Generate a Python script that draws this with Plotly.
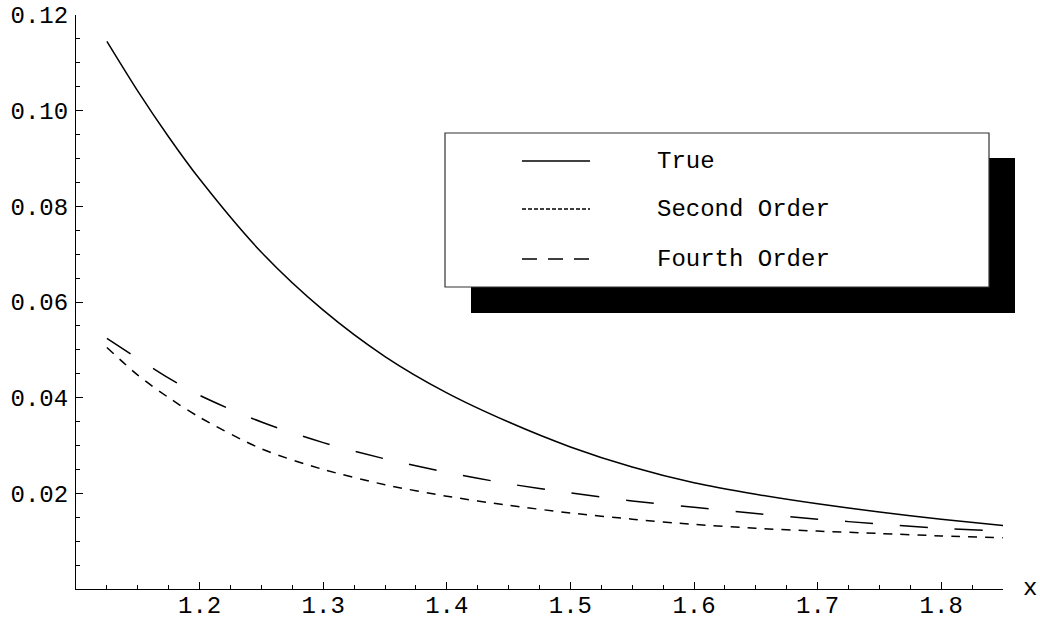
import plotly.graph_objects as go

# ---- data ----
x_vals = [1.125, 1.15, 1.175, 1.2, 1.25, 1.3, 1.35, 1.4, 1.45, 1.5,
          1.55, 1.6, 1.65, 1.7, 1.75, 1.8, 1.85]
true_vals = [0.1145, 0.1041, 0.0945, 0.0857, 0.0704, 0.0583, 0.0486, 0.0410,
             0.0349, 0.0297, 0.0255, 0.0222, 0.0198, 0.0178, 0.0161, 0.0146, 0.0133]
second_vals = [0.0505, 0.0447, 0.0400, 0.0359, 0.0293, 0.0250, 0.0218, 0.0194,
               0.0175, 0.0159, 0.0146, 0.0135, 0.0127, 0.0121, 0.0116, 0.0111, 0.0107]
fourth_vals = [0.0524, 0.0482, 0.0441, 0.0405, 0.0349, 0.0306, 0.0272, 0.0244,
               0.0220, 0.0201, 0.0184, 0.0171, 0.0158, 0.0146, 0.0136, 0.0127, 0.0121]
series_names = ["True", "Second Order", "Fourth Order"]
x_ticks = [1.2, 1.3, 1.4, 1.5, 1.6, 1.7, 1.8]
x_ticklabels = ["1.2", "1.3", "1.4", "1.5", "1.6", "1.7", "1.8"]
y_ticks = [0.02, 0.04, 0.06, 0.08, 0.10, 0.12]
y_ticklabels = ["0.02", "0.04", "0.06", "0.08", "0.10", "0.12"]

FONT = "Courier New, Liberation Mono, monospace"
W, H = 1040, 619
ML, MR, MT, MB = 76, 37, 15, 30
PW, PH = W - ML - MR, H - MT - MB


def px(xp):
    return (xp - ML) / PW


def py(yp):
    return (H - MB - yp) / PH


fig = go.Figure()
styles = [("solid", series_names[0], true_vals),
          ("9px,8px", series_names[1], second_vals),
          ("28px,27px", series_names[2], fourth_vals)]
for dash, name, vals in styles:
    fig.add_trace(go.Scatter(x=x_vals, y=vals, mode="lines", name=name,
                             line=dict(color="black", width=1.5, dash=dash,
                                       shape="spline", smoothing=0.8),
                             showlegend=False, cliponaxis=False, hoverinfo="skip"))

shapes = []
# legend shadow and box
shapes.append(dict(type="rect", xref="paper", yref="paper",
                   x0=px(471), x1=px(1015), y0=py(313), y1=py(158),
                   fillcolor="black", line=dict(width=0), layer="above"))
shapes.append(dict(type="rect", xref="paper", yref="paper",
                   x0=px(445), x1=px(989), y0=py(287), y1=py(133),
                   fillcolor="white", line=dict(color="#333", width=1.2), layer="above"))
legend_rows = [161, 209, 259]
legend_dash = ["solid", "4px,2px", "15px,11px"]
annotations = []
for row, dash, name in zip(legend_rows, legend_dash, series_names):
    shapes.append(dict(type="line", xref="paper", yref="paper",
                       x0=px(522), x1=px(590), y0=py(row), y1=py(row),
                       line=dict(color="black", width=1.3, dash=dash), layer="above"))
    annotations.append(dict(x=px(655), y=py(row), xref="paper", yref="paper",
                            text=name, showarrow=False, xanchor="left", yanchor="middle",
                            font=dict(family=FONT, size=24, color="black")))
annotations.append(dict(x=px(1030), y=py(588), xref="paper", yref="paper", text="x",
                        showarrow=False, xanchor="center", yanchor="middle",
                        font=dict(family=FONT, size=24, color="black")))

fig.update_layout(
    width=W, height=H,
    margin=dict(l=ML, r=MR, t=MT, b=MB, autoexpand=False),
    paper_bgcolor="white", plot_bgcolor="white",
    shapes=shapes, annotations=annotations,
    font=dict(family=FONT, size=24, color="black"),
    xaxis=dict(range=[1.1, 1.85], showgrid=False, zeroline=False, automargin=False,
               showline=True, linecolor="black", linewidth=1.2,
               tickmode="array", tickvals=x_ticks, ticktext=x_ticklabels,
               ticks="inside", ticklen=7, tickwidth=1.2, tickcolor="black",
               ticklabelstandoff=-6, ticklabeloverflow="allow",
               minor=dict(tick0=1.1, dtick=0.025, ticks="inside", ticklen=4,
                          tickcolor="black", tickwidth=1, showgrid=False),
               tickfont=dict(family=FONT, size=24, color="black")),
    yaxis=dict(range=[0, 0.12], showgrid=False, zeroline=False, automargin=False,
               showline=True, linecolor="black", linewidth=1.2,
               tickmode="array", tickvals=y_ticks, ticktext=y_ticklabels,
               ticks="inside", ticklen=7, tickwidth=1.2, tickcolor="black",
               ticklabelstandoff=2, ticklabeloverflow="allow",
               minor=dict(tick0=0, dtick=0.005, ticks="inside", ticklen=4,
                          tickcolor="black", tickwidth=1, showgrid=False),
               tickfont=dict(family=FONT, size=24, color="black")),
)

fig.write_html("out.html",
               config={"displayModeBar": False},
               post_script="document.body.style.margin='0px';")
